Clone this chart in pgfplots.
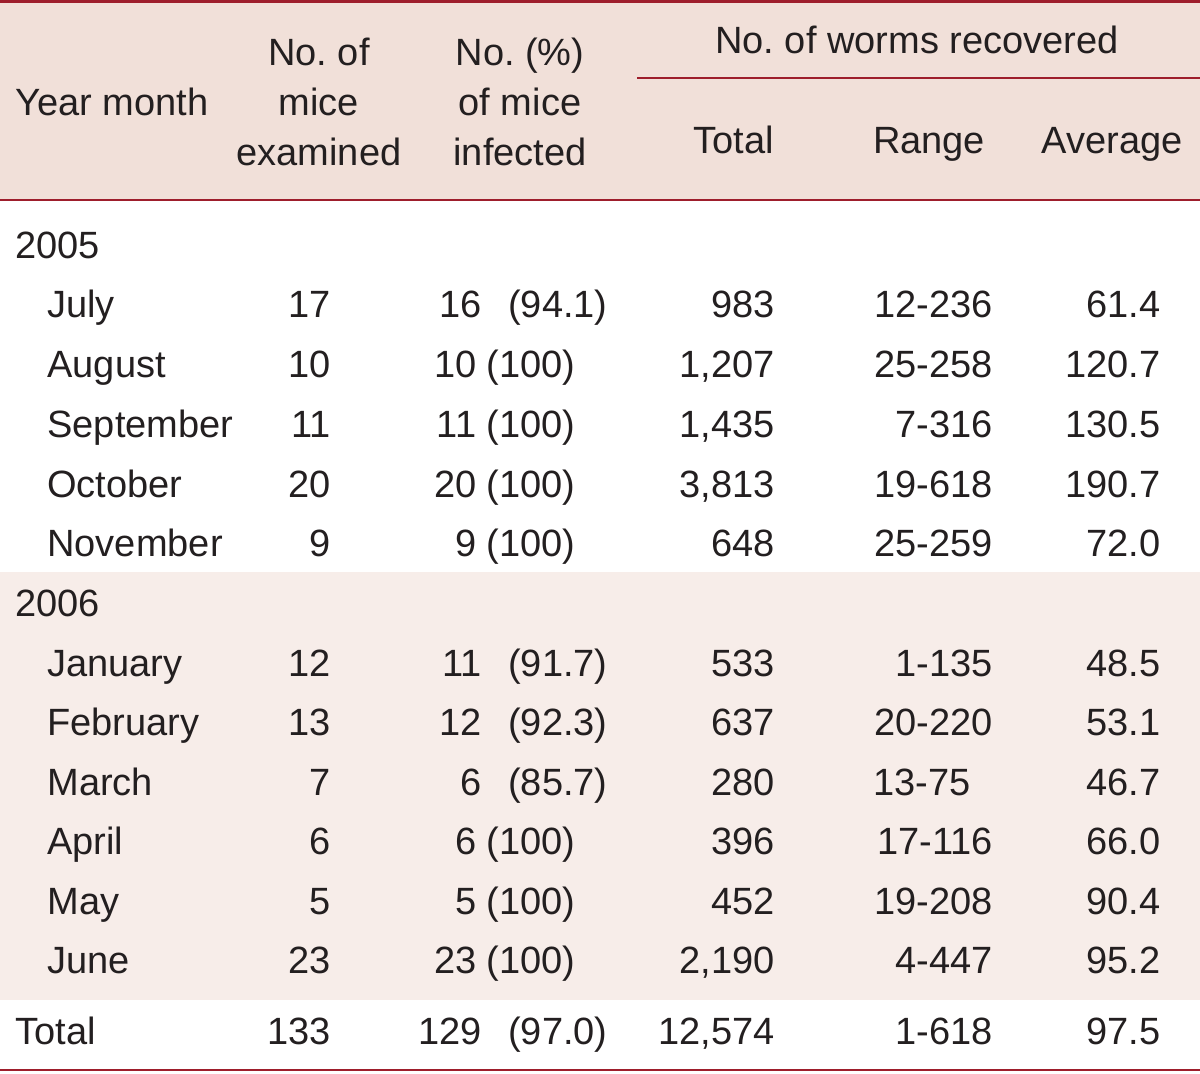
\documentclass[border=0pt]{standalone}
\usepackage{pgfplots}
\pgfplotsset{compat=1.18}
\usepackage{fontspec}
\setmainfont{Liberation Sans}
\definecolor{rule}{RGB}{158,30,44}
\definecolor{headbg}{RGB}{241,224,217}
\definecolor{bandbg}{RGB}{247,237,233}
\definecolor{txt}{RGB}{35,31,32}
\newcommand{\fs}{\fontsize{19}{22}\selectfont\frenchspacing}
\pgfplotsset{
  cell/.style={only marks, mark=none, point meta=explicit symbolic,
    nodes near coords, nodes near coords align=center,
    every node near coord/.style={anchor=#1, inner sep=0pt, font=\fs, text=txt}},
}
\begin{document}
\begin{tikzpicture}
\begin{axis}[width=600pt, height=536.5pt, scale only axis,
  xmin=0, xmax=1200, ymin=0, ymax=1073, y dir=reverse,
  hide axis, clip=false]
% backgrounds
\fill[headbg] (axis cs:0,2) rectangle (axis cs:1200,200);
\fill[bandbg] (axis cs:0,572) rectangle (axis cs:1200,1000);
% rules
\draw[rule, line width=1.1pt] (axis cs:0,1.5) -- (axis cs:1200,1.5);
\draw[rule, line width=0.9pt] (axis cs:0,200) -- (axis cs:1200,200);
\draw[rule, line width=0.8pt] (axis cs:637,78) -- (axis cs:1200,78);
\draw[rule, line width=1.1pt] (axis cs:0,1070) -- (axis cs:1200,1070);
% header
\begin{scope}[every node/.style={font=\fs, text=txt, inner sep=0pt}]
\node[anchor=base west] at (axis cs:15,115) {Year month};
\node[anchor=base] at (axis cs:319,65) {No.\ of};
\node[anchor=base] at (axis cs:319,115) {mice};
\node[anchor=base] at (axis cs:319,165) {examined};
\node[anchor=base] at (axis cs:520,65) {No.\ (\%)};
\node[anchor=base] at (axis cs:520,115) {of mice};
\node[anchor=base] at (axis cs:520,165) {infected};
\node[anchor=base] at (axis cs:917,53) {No.\ of worms recovered};
\node[anchor=base east] at (axis cs:774,153) {Total};
\node[anchor=base] at (axis cs:929,153) {Range};
\node[anchor=base] at (axis cs:1112,153) {Average};
\end{scope}
% row labels: years / total
\addplot[cell=base west] table[row sep=\\, col sep=semicolon, meta=t] {
x;y;t\\ 15;258;2005\\ 15;616;2006\\ 15;1044;Total\\ };
% row labels: months
\addplot[cell=base west] table[row sep=\\, col sep=semicolon, meta=t] {
x;y;t\\
47;317;July\\ 47;377;August\\ 47;437;September\\ 47;497;October\\ 47;556;November\\
47;676;January\\ 47;735;February\\ 47;795;March\\ 47;854;April\\ 47;914;May\\ 47;973;June\\ };
% No. of mice examined
\addplot[cell=base east] table[row sep=\\, col sep=semicolon, meta=t] {
x;y;t\\
331;317;17\\ 331;377;10\\ 331;437;11\\ 331;497;20\\ 331;556;9\\
331;676;12\\ 331;735;13\\ 331;795;7\\ 331;854;6\\ 331;914;5\\ 331;973;23\\ 331;1044;133\\ };
% No. of mice infected (not 100%): count
\addplot[cell=base east] table[row sep=\\, col sep=semicolon, meta=t] {
x;y;t\\
482;317;16\\ 482;676;11\\ 482;735;12\\ 482;795;6\\ 482;1044;129\\ };
% percentage (not 100%)
\addplot[cell=base east] table[row sep=\\, col sep=semicolon, meta=t] {
x;y;t\\
608;317;(94.1)\\ 608;676;(91.7)\\ 608;735;(92.3)\\ 608;795;(85.7)\\ 608;1044;(97.0)\\ };
% 100% rows
\addplot[cell=base east] table[row sep=\\, col sep=semicolon, meta=t] {
x;y;t\\
576;377;10 (100)\\ 576;437;11 (100)\\ 576;497;20 (100)\\ 576;556;9 (100)\\
576;854;6 (100)\\ 576;914;5 (100)\\ 576;973;23 (100)\\ };
% Total worms
\addplot[cell=base east] table[row sep=\\, col sep=semicolon, meta=t] {
x;y;t\\
775;317;983\\ 775;377;1,207\\ 775;437;1,435\\ 775;497;3,813\\ 775;556;648\\
775;676;533\\ 775;735;637\\ 775;795;280\\ 775;854;396\\ 775;914;452\\ 775;973;2,190\\ 775;1044;12,574\\ };
% Range
\addplot[cell=base east] table[row sep=\\, col sep=semicolon, meta=t] {
x;y;t\\
993;317;12-236\\ 993;377;25-258\\ 993;437;7-316\\ 993;497;19-618\\ 993;556;25-259\\
993;676;1-135\\ 993;735;20-220\\ 971;795;13-75\\ 993;854;17-116\\ 993;914;19-208\\ 993;973;4-447\\ 993;1044;1-618\\ };
% Average
\addplot[cell=base east] table[row sep=\\, col sep=semicolon, meta=t] {
x;y;t\\
1161;317;61.4\\ 1161;377;120.7\\ 1161;437;130.5\\ 1161;497;190.7\\ 1161;556;72.0\\
1161;676;48.5\\ 1161;735;53.1\\ 1161;795;46.7\\ 1161;854;66.0\\ 1161;914;90.4\\ 1161;973;95.2\\ 1161;1044;97.5\\ };
\end{axis}
\pgfresetboundingbox
\path[use as bounding box] (current axis.south west) rectangle (current axis.north east);
\end{tikzpicture}
\end{document}
